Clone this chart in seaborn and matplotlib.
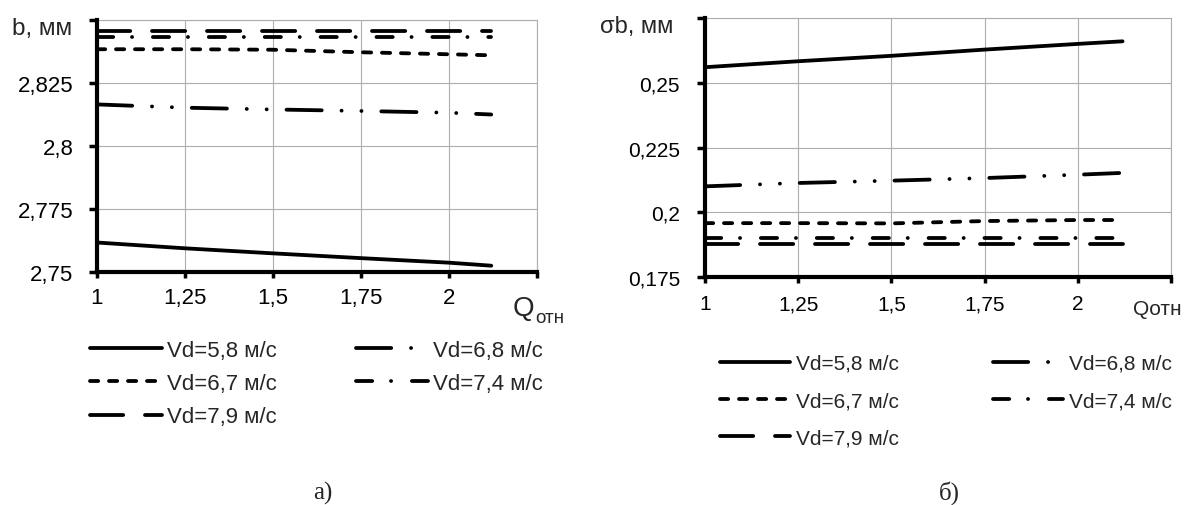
import matplotlib
matplotlib.use("Agg")
import numpy as np
import pandas as pd
import seaborn as sns
import matplotlib.pyplot as plt
from matplotlib.lines import Line2D

# ---- data -------------------------------------------------------------
q_rel = [1.0, 1.25, 1.5, 1.75, 2.0, 2.12]

speeds = ["Vd=5,8 м/с", "Vd=6,7 м/с", "Vd=6,8 м/с", "Vd=7,4 м/с", "Vd=7,9 м/с"]

# mean width b, mm
b_58 = [2.7617, 2.7594, 2.7574, 2.7555, 2.7537, 2.7525]
b_67 = [2.8384, 2.8384, 2.8382, 2.8372, 2.8364, 2.8360]
b_68 = [2.8165, 2.8152, 2.8145, 2.8139, 2.8132, 2.8125]
b_74 = [2.8432, 2.8432, 2.8432, 2.8432, 2.8432, 2.8432]
b_79 = [2.8457, 2.8457, 2.8457, 2.8457, 2.8457, 2.8457]

# standard deviation sigma_b, mm
s_58 = [0.2560, 0.2583, 0.2604, 0.2628, 0.2650, 0.2660]
s_67 = [0.1958, 0.1958, 0.1957, 0.1966, 0.1970, 0.1970]
s_68 = [0.2100, 0.2113, 0.2122, 0.2132, 0.2145, 0.2152]
s_74 = [0.1900, 0.1900, 0.1900, 0.1900, 0.1900, 0.1900]
s_79 = [0.1877, 0.1877, 0.1877, 0.1877, 0.1877, 0.1877]

x_ticks = [1.0, 1.25, 1.5, 1.75, 2.0, 2.25]
x_ticklabels = ["1", "1,25", "1,5", "1,75", "2", ""]
b_ticks = [2.75, 2.775, 2.8, 2.825, 2.85]
b_ticklabels = ["2,75", "2,775", "2,8", "2,825", ""]
s_ticks = [0.175, 0.2, 0.225, 0.25, 0.275]
s_ticklabels = ["0,175", "0,2", "0,225", "0,25", ""]


def long_table(series):
    rows = []
    for name, vals in zip(speeds, series):
        for q, v in zip(q_rel, vals):
            rows.append({"Q": q, "val": v, "series": name})
    return pd.DataFrame(rows)


df_b = long_table([b_58, b_67, b_68, b_74, b_79])
df_s = long_table([s_58, s_67, s_68, s_74, s_79])

# ---- style ------------------------------------------------------------
sns.set_style("white")
plt.rcParams["font.family"] = ["Liberation Sans", "DejaVu Sans"]
plt.rcParams["lines.scale_dashes"] = False

W, H = 1184, 506
LW_PX = 3.8
LW = LW_PX * 0.72

# visible dash / gap lengths in pixels
dash_px = {
    speeds[0]: (),
    speeds[1]: (12, 7),
    speeds[2]: (39, 16, 3.8, 16, 3.8, 16),
    speeds[3]: (20, 15, 3.8, 17),
    speeds[4]: (37, 18),
}


def to_pt(pattern):
    if not pattern:
        return ""
    out = []
    for i, v in enumerate(pattern):
        if i % 2 == 0:
            out.append(max(v - LW_PX, 0.1) * 0.72)
        else:
            out.append((v + LW_PX) * 0.72)
    return tuple(out)


dashes = {k: to_pt(v) for k, v in dash_px.items()}


def fx(x):
    return x / W


def fy(y):
    return 1 - y / H


fig = plt.figure(figsize=(W / 100, H / 100), dpi=100)
ax1 = fig.add_axes([fx(97), fy(273), fx(537) - fx(97), fy(21) - fy(273)])
ax2 = fig.add_axes([fx(705), fy(278), fx(1171) - fx(705), fy(19) - fy(278)])


def draw(ax, df):
    sns.lineplot(data=df, x="Q", y="val", style="series", style_order=speeds,
                 dashes=dashes, color="black", linewidth=LW, estimator=None,
                 errorbar=None, sort=False, legend=False, ax=ax,
                 dash_capstyle="round", solid_capstyle="round")


def style_axes(ax, yt, yl, ylim, fs, ypad, xpad):
    ax.set_xlim(1, 2.25)
    ax.set_ylim(*ylim)
    ax.set_xticks(x_ticks)
    ax.set_xticklabels(x_ticklabels)
    ax.set_yticks(yt)
    ax.set_yticklabels(yl)
    ax.set_xlabel("")
    ax.set_ylabel("")
    ax.grid(True, color="#adadad", linewidth=0.8)
    ax.set_axisbelow(True)
    for s in ("left", "bottom"):
        ax.spines[s].set_color("black")
        ax.spines[s].set_linewidth(3)
        ax.spines[s].set_zorder(5)
    for s in ("top", "right"):
        ax.spines[s].set_color("#adadad")
        ax.spines[s].set_linewidth(0.8)
    ax.tick_params(axis="both", direction="out", color="black", width=2.5,
                   labelsize=fs, labelcolor="black")
    ax.tick_params(axis="y", length=6, pad=ypad, left=True)
    ax.tick_params(axis="x", length=4, pad=xpad, bottom=True)


draw(ax1, df_b)
draw(ax2, df_s)
style_axes(ax1, b_ticks, b_ticklabels, (2.75, 2.85), 16, 11, 7)
style_axes(ax2, s_ticks, s_ticklabels, (0.175, 0.275), 15, 12, 8.5)

# axis names
fig.text(fx(72), fy(29), "b, мм", ha="right", va="center", fontsize=17.5)
fig.text(fx(673), fy(27), "σb, мм", ha="right", va="center", fontsize=17)
fig.text(fx(513), fy(316), "Q", ha="left", va="baseline", fontsize=20)
fig.text(fx(535), fy(323), "отн", ha="left", va="baseline", fontsize=13.5)
fig.text(fx(1133), fy(315), "Qотн", ha="left", va="baseline", fontsize=15)

# legends
order = [speeds[0], speeds[1], speeds[4], speeds[2], speeds[3]]


def handles():
    hs = []
    for s in order:
        ls = "-" if not dashes[s] else (0, dashes[s])
        hs.append(Line2D([], [], color="black", lw=LW, linestyle=ls,
                         dash_capstyle="round", solid_capstyle="round"))
    return hs


fig.legend(handles(), order, ncol=2, loc="upper left",
           bbox_to_anchor=(fx(90), fy(341)), frameon=False, fontsize=16,
           handlelength=3.24, handletextpad=0.23, columnspacing=3.56,
           labelspacing=0.55, borderpad=0, borderaxespad=0)
fig.legend(handles(), order, ncol=2, loc="upper left",
           bbox_to_anchor=(fx(720), fy(355)), frameon=False, fontsize=15,
           handlelength=3.37, handletextpad=0.29, columnspacing=4.5,
           labelspacing=0.87, borderpad=0, borderaxespad=0)

# panel captions
fig.text(fx(323), fy(493), "а)", ha="center", va="center", fontsize=18,
         family="Liberation Serif")
fig.text(fx(949), fy(493), "б)", ha="center", va="center", fontsize=18,
         family="Liberation Serif")

fig.savefig("out.png", dpi=100, facecolor="white")
